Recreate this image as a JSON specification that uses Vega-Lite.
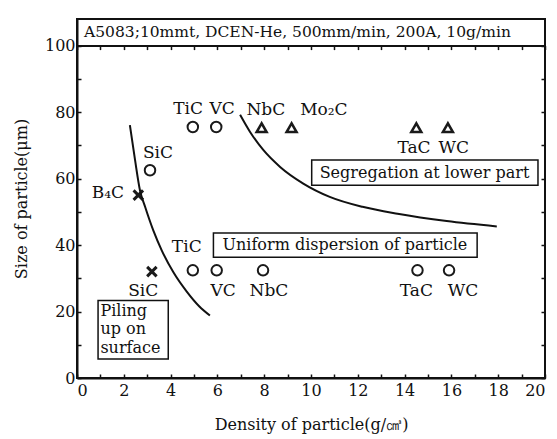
{
  "$schema": "https://vega.github.io/schema/vega-lite/v6.json",
  "width": 468,
  "height": 359,
  "autosize": {"type": "none"},
  "padding": {"left": 77, "top": 19, "right": 12, "bottom": 61},
  "background": "white",
  "config": {
    "view": {"stroke": "#111", "strokeWidth": 2},
    "font": "DejaVu Serif",
    "axis": {
      "labelFont": "DejaVu Serif",
      "titleFont": "DejaVu Serif",
      "labelFontSize": 16,
      "titleFontSize": 16,
      "titleFontWeight": "normal",
      "labelColor": "#111",
      "titleColor": "#111",
      "tickColor": "#111",
      "domainColor": "#111",
      "grid": false
    },
    "text": {"font": "DejaVu Serif", "color": "#111"}
  },
  "datasets": {
    "points": [
      {"density": 4.95, "size": 75.5, "type": "circle"},
      {"density": 5.95, "size": 75.5, "type": "circle"},
      {"density": 3.12, "size": 62.5, "type": "circle"},
      {"density": 2.62, "size": 55, "type": "cross"},
      {"density": 3.2, "size": 32, "type": "cross"},
      {"density": 4.95, "size": 32.4, "type": "circle"},
      {"density": 5.97, "size": 32.4, "type": "circle"},
      {"density": 7.95, "size": 32.4, "type": "circle"},
      {"density": 14.55, "size": 32.4, "type": "circle"},
      {"density": 15.9, "size": 32.4, "type": "circle"},
      {"density": 7.89, "size": 75.3, "type": "triangle"},
      {"density": 9.17, "size": 75.3, "type": "triangle"},
      {"density": 14.5, "size": 75.3, "type": "triangle"},
      {"density": 15.85, "size": 75.3, "type": "triangle"}
    ],
    "labels": [
      {"density": 4.75, "size": 81, "label": "TiC"},
      {"density": 6.2, "size": 81, "label": "VC"},
      {"density": 8.07, "size": 80.5, "label": "NbC"},
      {"density": 10.55, "size": 80.5, "label": "Mo₂C"},
      {"density": 14.4, "size": 69.2, "label": "TaC"},
      {"density": 16.1, "size": 69.2, "label": "WC"},
      {"density": 3.46, "size": 67.7, "label": "SiC"},
      {"density": 1.32, "size": 55.8, "label": "B₄C"},
      {"density": 4.69, "size": 39.4, "label": "TiC"},
      {"density": 2.83, "size": 26.3, "label": "SiC"},
      {"density": 6.24, "size": 26.3, "label": "VC"},
      {"density": 8.2, "size": 26.3, "label": "NbC"},
      {"density": 14.5, "size": 26.3, "label": "TaC"},
      {"density": 16.5, "size": 26.3, "label": "WC"}
    ],
    "curves": [
      {"curve": "a", "density": 2.26, "size": 76.1},
      {"curve": "a", "density": 2.48, "size": 65.6},
      {"curve": "a", "density": 2.69, "size": 56.5},
      {"curve": "a", "density": 2.91, "size": 51.5},
      {"curve": "a", "density": 3.26, "size": 44.4},
      {"curve": "a", "density": 3.62, "size": 38.4},
      {"curve": "a", "density": 4.12, "size": 31.8},
      {"curve": "a", "density": 4.69, "size": 26.0},
      {"curve": "a", "density": 5.22, "size": 21.6},
      {"curve": "a", "density": 5.68, "size": 18.8},
      {"curve": "b", "density": 6.97, "size": 79.2},
      {"curve": "b", "density": 7.39, "size": 74.1},
      {"curve": "b", "density": 7.96, "size": 68.6},
      {"curve": "b", "density": 8.68, "size": 63.5},
      {"curve": "b", "density": 9.67, "size": 58.5},
      {"curve": "b", "density": 10.8, "size": 54.5},
      {"curve": "b", "density": 12.2, "size": 51.5},
      {"curve": "b", "density": 13.7, "size": 49.4},
      {"curve": "b", "density": 15.8, "size": 47.2},
      {"curve": "b", "density": 17.94, "size": 45.6}
    ],
    "boxes": [
      {"x1": 5.83, "x2": 17.1, "y1": 36.3, "y2": 43.6},
      {"x1": 10.03, "x2": 19.7, "y1": 58.0, "y2": 65.6},
      {"x1": 0.9, "x2": 3.9, "y1": 5.7, "y2": 23.3}
    ],
    "boxtext": [
      {"x": 11.45, "y": 40.0, "label": "Uniform dispersion of particle"},
      {"x": 14.85, "y": 61.8, "label": "Segregation at lower part"}
    ],
    "piling": [
      {"x": 1.0, "y": 20.3, "label": "Piling"},
      {"x": 1.0, "y": 14.6, "label": "up on"},
      {"x": 1.0, "y": 8.9, "label": "surface"}
    ],
    "header": [
      {"x": 0.3, "y": 104.2, "label": "A5083;10mmt, DCEN-He, 500mm/min, 200A, 10g/min"}
    ]
  },
  "resolve": {"axis": {"x": "independent", "y": "independent"}},
  "layer": [
    {
      "data": {"name": "points"},
      "mark": {"type": "point", "filled": false, "color": "#1a1a1a", "opacity": 1},
      "encoding": {
        "x": {
          "field": "density", "type": "quantitative",
          "scale": {"domain": [0, 20], "nice": false, "zero": false},
          "axis": {
            "title": "Density of particle(g/㎤)",
            "values": [0,1,2,3,4,5,6,7,8,9,10,11,12,13,14,15,16,17,18,19,20],
            "labelExpr": "datum.value % 2 === 0 ? datum.label : ''",
            "tickSize": -4, "tickWidth": 1.5,
            "domainWidth": 2,
            "labelPadding": 8,
            "titlePadding": 18
          }
        },
        "y": {
          "field": "size", "type": "quantitative",
          "scale": {"domain": [0, 108], "nice": false, "zero": false},
          "axis": {
            "title": "Size of particle(μm)",
            "values": [0,10,20,30,40,50,60,70,80,90,100],
            "labelExpr": "datum.value % 20 === 0 ? datum.label : ''",
            "tickSize": -4, "tickWidth": 1.5,
            "domainWidth": 2,
            "labelPadding": 6,
            "titlePadding": 15
          }
        },
        "shape": {
          "field": "type", "type": "nominal", "legend": null,
          "scale": {"domain": ["circle", "triangle", "cross"], "range": ["circle", "triangle-up", "M-1,-1L1,1M-1,1L1,-1"]}
        },
        "size": {
          "field": "type", "type": "nominal", "legend": null,
          "scale": {"domain": ["circle", "triangle", "cross"], "range": [110, 90, 90]}
        },
        "strokeWidth": {
          "field": "type", "type": "nominal", "legend": null,
          "scale": {"domain": ["circle", "triangle", "cross"], "range": [2, 3, 2.5]}
        }
      }
    },
    {
      "data": {"name": "header"},
      "mark": {"type": "text", "align": "left", "baseline": "middle", "fontSize": 15.5},
      "encoding": {
        "x": {
          "field": "x", "type": "quantitative",
          "axis": {
            "orient": "top", "offset": -26.6, "title": null, "labels": false,
            "values": [0,1,2,3,4,5,6,7,8,9,10,11,12,13,14,15,16,17,18,19,20],
            "tickSize": -4, "tickWidth": 1.5, "domainWidth": 2
          }
        },
        "y": {
          "field": "y", "type": "quantitative",
          "axis": {
            "orient": "right", "title": null, "labels": false, "domain": false,
            "values": [0,10,20,30,40,50,60,70,80,90,100],
            "tickSize": -4, "tickWidth": 1.5
          }
        },
        "text": {"field": "label"}
      }
    },
    {
      "data": {"name": "curves"},
      "mark": {"type": "line", "interpolate": "monotone", "color": "#111", "strokeWidth": 2},
      "encoding": {
        "x": {"field": "density", "type": "quantitative", "axis": null},
        "y": {"field": "size", "type": "quantitative", "axis": null},
        "detail": {"field": "curve"},
        "order": {"field": "density"}
      }
    },
    {
      "data": {"name": "boxes"},
      "mark": {"type": "rect", "fill": "white", "stroke": "#111", "strokeWidth": 1.5},
      "encoding": {
        "x": {"field": "x1", "type": "quantitative", "axis": null},
        "x2": {"field": "x2"},
        "y": {"field": "y1", "type": "quantitative", "axis": null},
        "y2": {"field": "y2"}
      }
    },
    {
      "data": {"name": "boxtext"},
      "mark": {"type": "text", "align": "center", "baseline": "middle", "fontSize": 16},
      "encoding": {
        "x": {"field": "x", "type": "quantitative", "axis": null},
        "y": {"field": "y", "type": "quantitative", "axis": null},
        "text": {"field": "label"}
      }
    },
    {
      "data": {"name": "piling"},
      "mark": {"type": "text", "align": "left", "baseline": "middle", "fontSize": 16},
      "encoding": {
        "x": {"field": "x", "type": "quantitative", "axis": null},
        "y": {"field": "y", "type": "quantitative", "axis": null},
        "text": {"field": "label"}
      }
    },
    {
      "data": {"name": "labels"},
      "mark": {"type": "text", "align": "center", "baseline": "middle", "fontSize": 17},
      "encoding": {
        "x": {"field": "density", "type": "quantitative", "axis": null},
        "y": {"field": "size", "type": "quantitative", "axis": null},
        "text": {"field": "label"}
      }
    }
  ]
}
